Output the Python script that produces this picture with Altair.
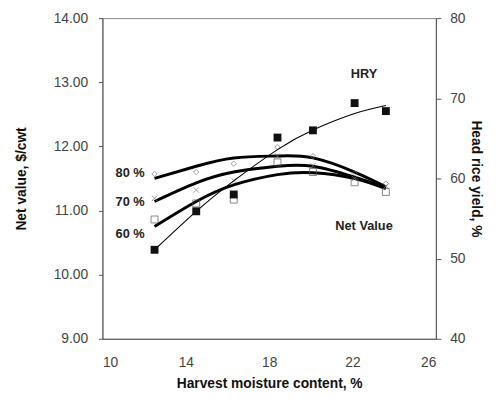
import altair as alt
import pandas as pd

# Harvest moisture content, %
moisture = [12.5, 14.5, 16.3, 18.4, 20.1, 22.1, 23.6]

# Observed points
hry_obs = [51.1, 55.9, 58.0, 65.1, 66.0, 69.4, 68.4]          # Head rice yield, %
nv60_obs = [10.86, 11.11, 11.17, 11.75, 11.60, 11.44, 11.29]  # Net value, $/cwt
nv70_obs = [11.19, 11.32, 11.47, 11.85, 11.70, 11.50, 11.38]
nv80_obs = [11.57, 11.60, 11.73, 11.99, 11.85, 11.58, 11.42]

# Fitted curves
hry_fit = [51.1, 55.9, 59.7, 63.6, 66.05, 68.1, 69.1]
nv60_fit = [10.75, 11.14, 11.40, 11.56, 11.59, 11.50, 11.34]
nv70_fit = [11.14, 11.43, 11.60, 11.69, 11.69, 11.52, 11.36]
nv80_fit = [11.50, 11.69, 11.82, 11.85, 11.82, 11.60, 11.37]

# Annotations (left-axis units)
label_text = ["HRY", "Net Value", "80 %", "70 %", "60 %"]
label_x = [22.55, 22.55, 11.33, 11.33, 11.33]
label_y = [13.13, 10.75, 11.59, 11.13, 10.63]

FONT = "Liberation Sans"

fit_df = pd.concat([
    pd.DataFrame({"x": moisture, "v": nv60_fit, "s": "60"}),
    pd.DataFrame({"x": moisture, "v": nv70_fit, "s": "70"}),
    pd.DataFrame({"x": moisture, "v": nv80_fit, "s": "80"}),
])
p60 = pd.DataFrame({"x": moisture, "v": nv60_obs})
p70 = pd.DataFrame({"x": moisture, "v": nv70_obs})
p80 = pd.DataFrame({"x": moisture, "v": nv80_obs})
hry_p = pd.DataFrame({"x": moisture, "v": hry_obs})
hry_f = pd.DataFrame({"x": moisture, "v": hry_fit})
lab = pd.DataFrame({"x": label_x, "v": label_y, "t": label_text})

X = alt.X("x:Q",
          scale=alt.Scale(domain=[10, 26], nice=False, zero=False),
          axis=alt.Axis(values=[10, 14, 18, 22, 26], title="Harvest moisture content, %",
                        ticks=False, labelPadding=17, grid=False,
                        titleY=46, titleBaseline="middle"))

left_axis = alt.Axis(values=[9, 10, 11, 12, 13, 14], format=".2f", title="Net value, $/cwt",
                     tickSize=4, labelPadding=11, grid=False, orient="left",
                     titleX=-82, titleY=163, titleBaseline="middle", titleAlign="center")
YL = alt.Y("v:Q", scale=alt.Scale(domain=[9, 14], nice=False, zero=False), axis=left_axis)

right_axis = alt.Axis(values=[40, 50, 60, 70, 80], title="Head rice yield, %",
                      tickSize=5, labelPadding=9, grid=False, orient="right",
                      titleX=40, titleY=163, titleAngle=90, titleBaseline="middle",
                      titleAlign="center")
YR = alt.Y("v:Q", scale=alt.Scale(domain=[40, 80], nice=False, zero=False), axis=right_axis)

nv_lines = alt.Chart(fit_df).mark_line(color="black", strokeWidth=3, interpolate="natural").encode(
    x=X, y=YL, detail="s:N")
m60 = alt.Chart(p60).mark_point(shape="square", filled=False, color="#555", size=50,
                                 strokeWidth=1).encode(x=X, y=YL)
m70 = alt.Chart(p70).mark_point(shape="M-1,-1L1,1M-1,1L1,-1", filled=False, color="#777",
                                 size=30, strokeWidth=1).encode(x=X, y=YL)
m80 = alt.Chart(p80).mark_point(shape="diamond", filled=False, color="#777", size=30,
                                 strokeWidth=1).encode(x=X, y=YL)
labels = alt.Chart(lab).mark_text(font=FONT, fontSize=13, fontWeight="bold", color="#222").encode(
    x=X, y=YL, text="t:N")

left = alt.layer(nv_lines, m60, m70, m80, labels)

hry_line = alt.Chart(hry_f).mark_line(color="black", strokeWidth=1.1, interpolate="natural").encode(
    x=X, y=YR)
hry_pts = alt.Chart(hry_p).mark_point(shape="square", filled=True, color="#111", size=64,
                                      opacity=1).encode(x=X, y=YR)
right = alt.layer(hry_line, hry_pts)

chart = alt.layer(left, right).resolve_scale(y="independent").properties(
    width=339, height=326,
    padding={"left": 96, "top": 7, "right": 55, "bottom": 62},
    autosize=alt.AutoSizeParams(type="none"),
    background="white",
).configure_view(stroke="#888", strokeWidth=1).configure_axis(
    labelFont=FONT, labelFontSize=14, labelColor="#444",
    titleFont=FONT, titleFontSize=14, titleFontWeight="bold", titleColor="#111",
    domainColor="#555", tickColor="#555",
)

chart.save("out.html", embed_options={"renderer": "svg", "actions": False})
